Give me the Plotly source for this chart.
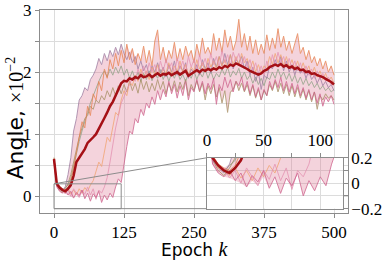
import numpy as np
import plotly.graph_objects as go

epochs = list(range(0, 501, 5))

mean_angle = [
    0.60, 0.20, 0.14, 0.10, 0.08, 0.12, 0.18, 0.33, 0.55, 0.62,
    0.68, 0.76, 0.86, 0.90, 0.95, 1.00, 1.08, 1.18, 1.26, 1.35,
    1.45, 1.52, 1.62, 1.72, 1.82, 1.86, 1.85, 1.90, 1.88, 1.92,
    1.90, 1.95, 1.92, 1.93, 1.96, 1.92, 1.95, 1.98, 1.94, 1.97,
    1.96, 1.99, 1.95, 1.98, 2.00, 1.96, 1.99, 2.02, 1.94, 1.97,
    2.00, 2.03, 2.00, 2.04, 2.02, 2.05, 2.03, 2.06, 2.04, 2.08,
    2.06, 2.10, 2.08, 2.12, 2.10, 2.14, 2.12, 2.10, 2.08, 2.05,
    2.02, 2.00, 1.98, 1.96, 1.98, 2.02, 2.04, 2.08, 2.10, 2.12,
    2.10, 2.13, 2.09, 2.11, 2.07, 2.09, 2.05, 2.07, 2.03, 2.04,
    2.00, 2.01, 1.97, 1.98, 1.95, 1.94, 1.92, 1.89, 1.87, 1.84,
    1.80]

run_purple = [
    0.58, 0.18, 0.12, 0.08, 0.15, 0.35, 0.62, 1.05, 1.25, 1.55,
    1.62, 1.75, 1.70, 1.88, 1.95, 2.05, 2.22, 2.12, 2.30, 2.18,
    2.35, 2.25, 2.40, 2.28, 2.45, 2.30, 2.20, 2.32, 2.15, 2.25,
    2.05, 2.18, 2.02, 2.12, 1.95, 2.10, 2.00, 2.15, 1.98, 2.08,
    1.92, 2.12, 2.00, 2.18, 1.95, 2.10, 2.02, 2.15, 1.90, 2.05,
    1.98, 2.12, 1.95, 2.20, 2.05, 2.15, 1.98, 2.22, 2.08, 2.25,
    2.10, 2.30, 2.12, 2.28, 2.05, 2.20, 2.15, 2.25, 2.05, 2.18,
    1.95, 2.08, 1.85, 2.00, 1.72, 1.95, 1.90, 2.10, 2.05, 2.20,
    2.08, 2.25, 2.02, 2.18, 2.00, 2.12, 1.95, 2.10, 1.98, 2.05,
    1.90, 2.02, 1.88, 1.95, 1.82, 1.92, 1.78, 1.85, 1.75, 1.80,
    1.70]

run_orange = [
    0.62, 0.22, 0.15, 0.12, 0.10, 0.14, 0.25, 0.45, 0.70, 0.95,
    1.20, 1.10, 1.45, 1.30, 1.65, 1.55, 1.85, 1.70, 2.05, 1.90,
    2.20, 2.05, 2.30, 2.10, 2.35, 2.15, 2.45, 2.20, 2.38, 2.12,
    2.30, 2.18, 2.42, 2.15, 2.35, 2.10, 2.50, 2.68, 2.20, 2.40,
    2.15, 2.35, 2.22, 2.48, 2.18, 2.38, 2.20, 2.42, 2.25, 2.35,
    2.15, 2.45, 2.25, 2.55, 2.30, 2.40, 2.28, 2.62, 2.35, 2.55,
    2.32, 2.68, 2.40, 2.58, 2.35, 2.50, 2.85, 2.40, 2.62, 2.35,
    2.58, 2.30, 2.52, 2.28, 2.45, 2.30, 2.60, 2.35, 2.55, 2.38,
    2.70, 2.40, 2.58, 2.35, 2.50, 2.30, 2.45, 2.62, 2.30, 2.40,
    2.20, 2.35, 2.15, 2.25, 2.10, 2.22, 2.05, 2.18, 2.00, 2.10,
    1.95]

run_pink = [
    0.55, 0.15, 0.08, 0.05, 0.10, 0.02, 0.08, -0.03, 0.06, 0.01,
    0.10, -0.04, 0.05, -0.08, 0.04, -0.02, 0.08, -0.10, 0.02, -0.06,
    0.05, -0.02, 0.15, 0.28, 0.22, 0.55, 0.80, 1.05, 1.00, 1.25,
    1.18, 1.40, 1.30, 1.50, 1.42, 1.60, 1.48, 1.70, 1.55, 1.72,
    1.60, 1.85, 1.65, 1.80, 1.58, 1.78, 1.62, 1.85, 1.55, 1.75,
    1.68, 1.88, 1.70, 1.85, 1.65, 1.82, 1.72, 1.90, 1.48, 1.80,
    1.70, 1.92, 1.75, 1.88, 1.68, 1.85, 1.78, 1.92, 1.70, 1.85,
    1.65, 1.80, 1.60, 1.75, 1.55, 1.72, 1.62, 1.85, 1.72, 1.88,
    1.75, 1.92, 1.70, 1.85, 1.68, 1.82, 1.65, 1.80, 1.62, 1.75,
    1.58, 1.72, 1.55, 1.68, 1.50, 1.65, 1.45, 1.60, 1.52, 1.62,
    1.48]

run_light_orange = [
    0.60, 0.20, 0.12, 0.10, 0.06, 0.12, 0.04, 0.10, 0.02, 0.12,
    0.05, 0.14, 0.08, 0.18, 0.25, 0.40, 0.55, 0.48, 0.75, 0.95,
    0.88, 1.15, 1.35, 1.30, 1.55, 1.70, 1.62, 1.85, 1.78, 1.95,
    1.85, 2.05, 1.90, 2.02, 1.88, 2.08, 1.95, 2.12, 1.92, 2.05,
    1.98, 2.15, 1.95, 2.10, 2.00, 2.18, 1.98, 2.12, 1.95, 2.08,
    2.02, 2.20, 2.05, 2.15, 2.00, 2.22, 2.08, 2.18, 2.05, 2.25,
    2.10, 2.20, 2.05, 2.28, 2.12, 2.25, 2.10, 2.30, 2.15, 2.22,
    2.05, 2.18, 2.00, 2.12, 1.98, 2.10, 2.05, 2.25, 2.12, 2.30,
    2.15, 2.28, 2.10, 2.25, 2.08, 2.20, 2.05, 2.18, 2.02, 2.15,
    2.00, 2.10, 1.95, 2.08, 1.92, 2.02, 1.88, 1.98, 1.85, 1.92,
    1.82]

run_olive = [
    0.60, 0.18, 0.10, 0.06, 0.12, 0.20, 0.35, 0.55, 0.80, 0.95,
    1.10, 1.25, 1.30, 1.45, 1.40, 1.55, 1.50, 1.62, 1.55, 1.70,
    1.60, 1.75, 1.62, 1.78, 1.65, 1.80, 1.68, 1.85, 1.70, 1.82,
    1.66, 1.88, 1.72, 1.85, 1.68, 1.82, 1.70, 1.88, 1.72, 1.85,
    1.65, 1.82, 1.70, 1.86, 1.68, 1.84, 1.72, 1.88, 1.62, 1.80,
    1.70, 1.86, 1.68, 1.82, 1.55, 1.78, 1.65, 1.80, 1.60, 1.75,
    1.50, 1.70, 1.35, 1.68, 1.72, 1.85, 1.70, 1.82, 1.68, 1.80,
    1.62, 1.78, 1.58, 1.72, 1.55, 1.70, 1.62, 1.80, 1.70, 1.85,
    1.68, 1.82, 1.65, 1.80, 1.62, 1.78, 1.60, 1.75, 1.58, 1.72,
    1.55, 1.70, 1.52, 1.68, 1.40, 1.62, 1.55, 1.65, 1.58, 1.62,
    1.55]

run_light_pink = [
    0.58, 0.16, 0.09, 0.12, 0.04, 0.10, 0.00, 0.12, 0.05, -0.02,
    0.10, 0.03, 0.15, 0.02, 0.12, -0.05, 0.10, 0.05, 0.15, 0.30,
    0.55, 0.85, 1.10, 1.30, 1.50, 1.60, 1.72, 1.80, 1.92, 1.85,
    2.05, 1.90, 2.10, 1.95, 2.15, 2.00, 2.12, 1.95, 2.18, 2.02,
    2.20, 2.05, 2.15, 1.98, 2.22, 2.05, 2.18, 2.00, 2.25, 2.08,
    2.20, 2.02, 2.28, 2.10, 2.22, 2.05, 2.30, 2.12, 2.25, 2.08,
    2.35, 2.15, 2.28, 2.10, 2.32, 2.18, 2.30, 2.12, 2.25, 2.08,
    2.20, 2.02, 2.15, 1.98, 2.10, 1.95, 2.18, 2.05, 2.28, 2.10,
    2.32, 2.15, 2.25, 2.08, 2.22, 2.05, 2.18, 2.02, 2.15, 1.98,
    2.10, 1.95, 2.05, 1.90, 2.02, 1.88, 1.98, 1.85, 1.92, 1.80,
    1.85]

run_green = [
    0.62, 0.20, 0.13, 0.09, 0.14, 0.18, 0.28, 0.50, 0.72, 0.88,
    1.05, 1.22, 1.35, 1.50, 1.62, 1.75, 1.85, 1.95, 2.02, 1.92,
    2.05, 1.95, 2.08, 1.98, 2.10, 1.95, 2.05, 1.90, 2.02, 1.88,
    2.00, 1.85, 1.98, 1.88, 2.02, 1.86, 1.98, 1.90, 2.04, 1.88,
    2.00, 1.85, 1.98, 1.90, 2.02, 1.88, 1.96, 1.85, 1.98, 1.90,
    2.02, 1.88, 2.00, 1.92, 2.05, 1.90, 2.02, 1.88, 1.98, 1.92,
    2.05, 1.95, 2.08, 1.92, 2.02, 1.95, 2.06, 1.90, 2.00, 1.88,
    1.95, 1.82, 1.92, 1.80, 1.90, 1.78, 1.92, 1.88, 2.00, 1.90,
    2.05, 1.92, 2.00, 1.88, 1.98, 1.85, 1.95, 1.82, 1.92, 1.80,
    1.90, 1.78, 1.85, 1.75, 1.82, 1.72, 1.78, 1.70, 1.75, 1.68,
    1.72]

runs = [
    (run_green, "#8da184"),
    (run_olive, "#a38d5f"),
    (run_purple, "#9b7a9f"),
    (run_light_orange, "#f2a26c"),
    (run_orange, "#e77f4a"),
    (run_light_pink, "#e48fb0"),
    (run_pink, "#cc5c88"),
]

x_ticks = [0, 125, 250, 375, 500]
y_ticks = [0, 1, 2, 3]
y_minor = [0.5, 1.5, 2.5]
inset_xticks = [0, 50, 100]
inset_xminor = [25, 75]
inset_yticks = [-0.2, 0, 0.2]
inset_ytext = ["\u22120.2", "0", "0.2"]
inset_yminor = [-0.1, 0.1]

zoom_x = [0, 120]
zoom_y = [-0.2, 0.2]

X_RANGE = [-25, 525]
Y_RANGE = [-0.27, 3.0]
# inset placement, expressed in main-axis data units
INSET_X = [273, 516]
INSET_Y = [-0.2, 0.62]

arr = np.array([r for r, _ in runs])
lower = arr.min(axis=0)
upper = arr.max(axis=0)

SERIF = "Liberation Serif"
SANS = "DejaVu Sans"

fig = go.Figure()


def add_all(xa, ya, n):
    ex = epochs[:n]
    fig.add_trace(go.Scatter(x=ex, y=list(lower[:n]), mode="lines",
                             line=dict(width=0), showlegend=False,
                             hoverinfo="skip", xaxis=xa, yaxis=ya))
    fig.add_trace(go.Scatter(x=ex, y=list(upper[:n]), mode="lines",
                             line=dict(width=0), fill="tonexty",
                             fillcolor="rgba(222,120,150,0.33)",
                             showlegend=False, hoverinfo="skip",
                             xaxis=xa, yaxis=ya))
    for vals, col in runs:
        fig.add_trace(go.Scatter(x=ex, y=vals[:n], mode="lines",
                                 line=dict(color=col, width=1),
                                 opacity=0.75, showlegend=False,
                                 xaxis=xa, yaxis=ya))
    fig.add_trace(go.Scatter(x=ex, y=mean_angle[:n], mode="lines",
                             line=dict(color="#a51016", width=2.5),
                             showlegend=False, xaxis=xa, yaxis=ya))


add_all("x", "y", len(epochs))
add_all("x2", "y2", 28)


def to_paper_x(v):
    return (v - X_RANGE[0]) / (X_RANGE[1] - X_RANGE[0])


def to_paper_y(v):
    return (v - Y_RANGE[0]) / (Y_RANGE[1] - Y_RANGE[0])


GRID = "#dcdcdc"
LINE = "#8c8c8c"
axis_common = dict(showline=True, linecolor=LINE, linewidth=1,
                   mirror=True, gridcolor=GRID, gridwidth=1,
                   zeroline=False, ticks="outside", ticklen=4,
                   tickcolor=LINE, automargin=False,
                   ticklabeloverflow="allow",
                   tickfont=dict(family=SERIF, size=17, color="black"))


def minor(vals):
    return dict(tickvals=vals, ticks="outside", ticklen=4, tickcolor=LINE,
                showgrid=True, gridcolor=GRID, gridwidth=1)


fig.update_layout(
    width=391, height=262,
    margin=dict(l=40, r=43, t=10, b=49),
    paper_bgcolor="white", plot_bgcolor="white",
    xaxis=dict(range=X_RANGE, tickvals=x_ticks, domain=[0, 1], **axis_common),
    yaxis=dict(range=Y_RANGE, tickvals=y_ticks, minor=minor(y_minor),
               domain=[0, 1], **axis_common),
    xaxis2=dict(range=[0, 120], tickvals=inset_xticks,
                minor=minor(inset_xminor), side="top", anchor="y2",
                domain=[to_paper_x(INSET_X[0]), to_paper_x(INSET_X[1])],
                **axis_common),
    yaxis2=dict(range=[-0.2, 0.2], tickvals=inset_yticks, ticktext=inset_ytext,
                minor=minor(inset_yminor), side="right", anchor="x2",
                domain=[to_paper_y(INSET_Y[0]), to_paper_y(INSET_Y[1])],
                **axis_common),
    annotations=[
        dict(text="Epoch <span style=\"font-family:Liberation Serif;font-size:20px\"><i>k</i></span>",
             xref="paper", yref="paper", x=0.503, y=-0.177,
             xanchor="center", yanchor="middle", showarrow=False,
             font=dict(family=SANS, size=17, color="black")),
        dict(text="Angle, <span style=\"font-family:Liberation Serif;font-size:20px\">\u00d710<sup>\u22122</sup></span>",
             xref="paper", yref="paper", x=-0.081, y=0.4655,
             xanchor="center", yanchor="middle", showarrow=False,
             textangle=-90,
             font=dict(family=SANS, size=22, color="black")),
    ],
    shapes=[
        dict(type="rect", xref="x", yref="y", x0=zoom_x[0], x1=zoom_x[1],
             y0=zoom_y[0], y1=zoom_y[1], line=dict(color=LINE, width=1),
             layer="above"),
        dict(type="line", xref="x", yref="y", x0=zoom_x[0], y0=zoom_y[1],
             x1=INSET_X[0], y1=INSET_Y[1], line=dict(color=LINE, width=1),
             layer="above"),
        dict(type="line", xref="x", yref="y", x0=zoom_x[0], y0=zoom_y[0],
             x1=INSET_X[0], y1=INSET_Y[0], line=dict(color=LINE, width=1),
             layer="above"),
    ],
)

fig.write_html("out.html",
               config={"displayModeBar": False},
               post_script="document.body.style.margin='0px';"
                           "document.body.style.overflow='hidden';")
